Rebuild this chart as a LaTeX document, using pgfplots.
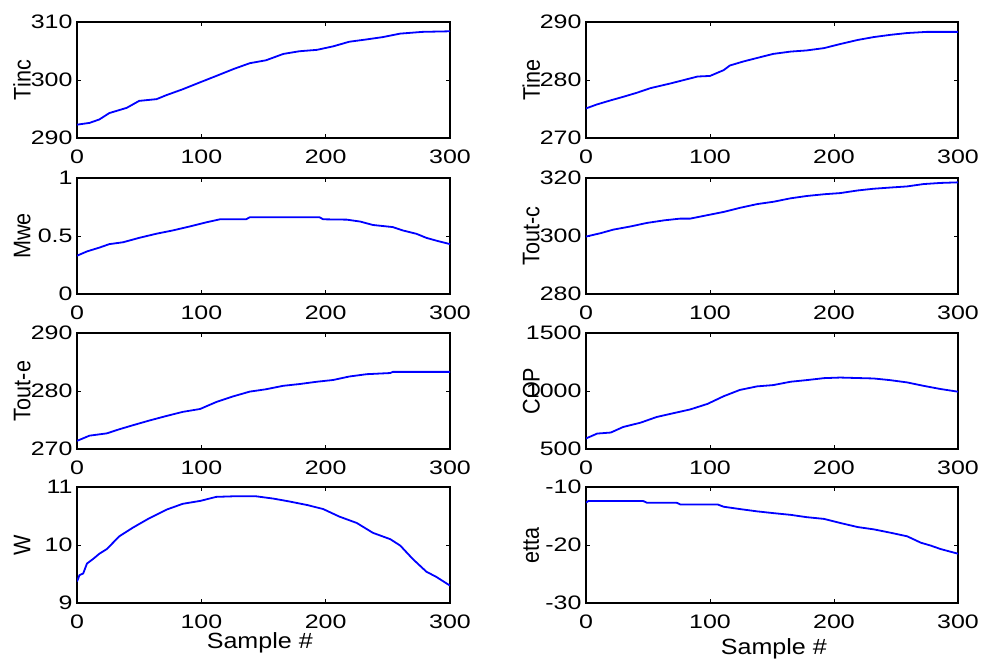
\documentclass[border=0pt]{standalone}
\usepackage{fontspec}
\setmainfont{Liberation Sans}
\newfontfamily\tickfont{Liberation Sans}[FakeStretch=1.28]
\newfontfamily\labfont{Liberation Sans}[FakeStretch=1.14]
\newfontfamily\rotfont{Liberation Sans}[FakeStretch=0.9]
\usepackage{pgfplots}
\pgfplotsset{compat=1.18}
\pgfplotsset{
  sub/.style={
    scale only axis, width=373pt, height=116pt,
    xmin=0, xmax=300, xtick={0,100,200,300},
    axis line style={line width=2pt},
    tick style={line width=1pt, black},
    major tick length=4pt,
    tick align=inside,
    no markers,
    /pgf/number format/assume math mode=true,
    /pgf/number format/1000 sep={},
    ticklabel style={font=\tickfont\fontsize{19.5}{23}\selectfont},
    xticklabel style={yshift=-8pt},
    yticklabel style={xshift=-1pt},
    xlabel style={font=\labfont\fontsize{22}{26}\selectfont},
    ylabel style={font=\rotfont\fontsize{24}{28}\selectfont, at={(axis description cs:-0.147,0.5)}, anchor=center},
    every axis plot/.append style={color={rgb,255:red,0;green,0;blue,255}, line width=1.8pt},
  }
}
\begin{document}
\begin{tikzpicture}
\useasboundingbox (0pt,0pt) rectangle (982pt,-662pt);
% Tinc
\begin{axis}[sub, at={(77pt,-22pt)}, anchor=north west, ymin=290, ymax=310, ytick={290,300,310}, ylabel={Tinc}]
\addplot coordinates {(0,292.3)(10,292.6)(18,293.2)(26,294.3)(40,295.2)(50,296.4)(64,296.7)(72,297.4)(85,298.4)(99,299.6)(112,300.7)(126,301.9)(139,302.9)(152,303.4)(166,304.5)(179,304.96)(193,305.2)(206,305.8)(219,306.6)(233,307.0)(246,307.4)(260,308.0)(278,308.3)(300,308.4)};
\end{axis}
% Tine
\begin{axis}[sub, width=372pt, at={(586pt,-22pt)}, anchor=north west, ymin=270, ymax=290, ytick={270,280,290}, ylabel={Tine}]
\addplot coordinates {(0,275.1)(9,275.8)(20,276.5)(30,277.1)(41,277.8)(52,278.6)(68,279.4)(79,280.0)(90,280.6)(100,280.7)(111,281.7)(116,282.5)(127,283.2)(138,283.8)(151,284.5)(165,284.9)(178,285.1)(192,285.5)(205,286.2)(219,286.9)(232,287.4)(246,287.8)(259,288.1)(275,288.3)(300,288.3)};
\end{axis}
% Mwe
\begin{axis}[sub, at={(77pt,-178pt)}, anchor=north west, ymin=0, ymax=1, ytick={0,0.5,1}, ylabel={Mwe}]
\addplot coordinates {(0,0.33)(8,0.367)(18,0.40)(26,0.43)(37,0.446)(50,0.484)(64,0.52)(77,0.548)(91,0.583)(104,0.618)(115,0.644)(136,0.644)(139,0.662)(195,0.662)(198,0.644)(217,0.641)(228,0.624)(238,0.595)(254,0.577)(262,0.548)(273,0.519)(281,0.484)(289,0.46)(300,0.43)};
\end{axis}
% Tout-c
\begin{axis}[sub, width=372pt, at={(586pt,-178pt)}, anchor=north west, ymin=280, ymax=320, ytick={280,300,320}, ylabel={Tout-c}]
\addplot coordinates {(0,299.8)(12,301.0)(22,302.2)(36,303.3)(49,304.5)(63,305.4)(76,306.0)(84,306.0)(98,307.2)(111,308.3)(124,309.7)(138,311.0)(151,311.8)(165,313.0)(178,313.8)(192,314.4)(205,314.8)(219,315.7)(232,316.3)(245,316.7)(259,317.1)(272,317.9)(286,318.3)(300,318.5)};
\end{axis}
% Tout-e
\begin{axis}[sub, at={(77pt,-333pt)}, anchor=north west, ymin=270, ymax=290, ytick={270,280,290}, ylabel={Tout-e}]
\addplot coordinates {(0,271.4)(10,272.3)(24,272.7)(34,273.4)(45,274.1)(58,274.9)(72,275.7)(85,276.4)(99,276.9)(112,278.1)(126,279.1)(139,279.9)(152,280.3)(166,280.9)(179,281.2)(193,281.6)(206,281.9)(219,282.5)(233,282.9)(252,283.1)(254,283.3)(300,283.3)};
\end{axis}
% COP
\begin{axis}[sub, width=372pt, at={(586pt,-333pt)}, anchor=north west, ymin=500, ymax=1500, ytick={500,1000,1500}, ylabel={COP}]
\addplot coordinates {(0,591)(9,633)(20,642)(30,690)(44,727)(57,776)(71,810)(84,841)(98,889)(111,955)(124,1009)(138,1040)(151,1051)(165,1080)(178,1094)(192,1111)(205,1116)(232,1108)(245,1094)(259,1074)(272,1045)(286,1017)(300,994)};
\end{axis}
% W
\begin{axis}[sub, at={(77pt,-487pt)}, anchor=north west, ymin=9, ymax=11, ytick={9,10,11}, ylabel={W},
  xlabel={Sample \#}, xlabel style={at={(axis description cs:0.49,-0.39)}, anchor=base}]
\addplot coordinates {(0,9.37)(2,9.48)(5,9.51)(8,9.68)(13,9.76)(18,9.85)(24,9.93)(29,10.04)(34,10.15)(45,10.30)(58,10.46)(72,10.61)(85,10.71)(99,10.76)(112,10.83)(126,10.84)(144,10.84)(158,10.80)(171,10.75)(185,10.69)(198,10.62)(211,10.49)(225,10.38)(238,10.21)(252,10.10)(260,9.99)(270,9.76)(281,9.54)(289,9.45)(300,9.30)};
\end{axis}
% etta
\begin{axis}[sub, width=372pt, at={(586pt,-487pt)}, anchor=north west, ymin=-30, ymax=-10, ytick={-30,-20,-10}, ylabel={etta},
  xlabel={Sample \#}, xlabel style={at={(axis description cs:0.505,-0.445)}, anchor=base}]
\addplot coordinates {(0,-12.7)(2,-12.4)(46,-12.4)(49,-12.7)(73,-12.7)(76,-13.0)(106,-13.0)(111,-13.4)(124,-13.8)(138,-14.2)(151,-14.5)(165,-14.8)(178,-15.2)(192,-15.5)(205,-16.2)(219,-16.9)(232,-17.3)(246,-17.9)(259,-18.5)(270,-19.6)(278,-20.1)(286,-20.7)(300,-21.5)};
\end{axis}
\end{tikzpicture}
\end{document}
